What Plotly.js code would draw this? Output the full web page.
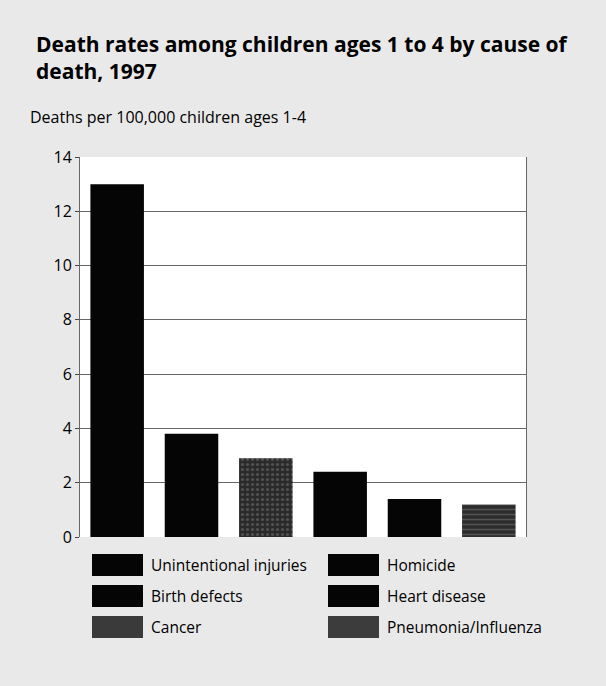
<!DOCTYPE html>
<html><head><meta charset="utf-8">
<script src="https://cdn.plot.ly/plotly-3.0.1.min.js"></script>
<style>html,body{margin:0;padding:0;background:#e9e9e9}</style>
</head><body><div id="chart" style="width:606px;height:686px"></div>
<script>
// ---- data ----
const causes = ["Unintentional injuries","Birth defects","Cancer","Homicide","Heart disease","Pneumonia/Influenza"];
const rates = [13.0, 3.8, 2.9, 2.4, 1.4, 1.2];
const yTickVals = [0,2,4,6,8,10,12,14];
const titleText = "Death rates among children ages 1 to 4 by cause of<br>death, 1997";
const yTitleText = "Deaths per 100,000 children ages 1-4";

// ---- styles ----
const barColors = ["#050505","#050505","#2a2a2a","#050505","#050505","#2c2c2c"];
const patShapes = ["","",".","","","-"];
const swatchColors = ["#050505","#050505","#3a3a3a","#050505","#050505","#3c3c3c"];
const FONT = "Open Sans, Lato, sans-serif";

const W = 606, H = 686, L = 80, R = 80, T = 157, B = 149;
const pw = W - L - R, ph = H - T - B;
const px2x = p => (p - L) / pw;
const py2y = p => (H - B - p) / ph;

const traces = causes.map((c, i) => ({
  type: "bar",
  x: [c],
  y: [rates[i]],
  name: c,
  width: 0.72,
  showlegend: false,
  marker: {
    color: barColors[i],
    line: {width: 0},
    pattern: patShapes[i]
      ? {shape: patShapes[i], fillmode: "overlay", bgcolor: barColors[i], fgcolor: "#7a7a7a", size: 5, solidity: 0.3}
      : {shape: ""}
  },
  hoverinfo: "x+y"
}));

// custom legend: two columns, three rows
const shapes = [];
const annotations = [];
const rowY = [565, 596, 627];
const colX = [92, 328];
causes.forEach((c, i) => {
  const col = Math.floor(i / 3), row = i % 3;
  const x0 = colX[col], y0 = rowY[row];
  shapes.push({type: "rect", xref: "paper", yref: "paper",
    x0: px2x(x0), x1: px2x(x0 + 51), y0: py2y(y0 - 11), y1: py2y(y0 + 11),
    fillcolor: swatchColors[i], line: {width: 0}});
  annotations.push({xref: "paper", yref: "paper", x: px2x(x0 + 57), y: py2y(y0),
    xanchor: "left", yanchor: "middle", text: c, showarrow: false,
    font: {family: FONT, size: 15.5, color: "#000"}});
});
annotations.push({xref: "paper", yref: "paper", x: px2x(28), y: py2y(117),
  xanchor: "left", yanchor: "middle", text: yTitleText, showarrow: false,
  font: {family: FONT, size: 16, color: "#000"}});

const layout = {
  width: W, height: H,
  margin: {l: L, r: R, t: T, b: B, pad: 0},
  paper_bgcolor: "#e9e9e9",
  plot_bgcolor: "#ffffff",
  barmode: "overlay",
  title: {text: titleText, x: 36 / W, xanchor: "left", xref: "container",
    y: 1 - 52 / H, yanchor: "top", yref: "container",
    font: {family: FONT, size: 21, color: "#000", weight: "bold"}},
  xaxis: {type: "category", categoryorder: "array", categoryarray: causes,
    showticklabels: false, ticks: "", showgrid: false, zeroline: false,
    showline: false, fixedrange: true},
  yaxis: {range: [0, 14], tickvals: yTickVals, ticks: "outside", ticklen: 4,
    tickcolor: "#444", showgrid: true, gridcolor: "#666", gridwidth: 1,
    zeroline: false, showline: true, mirror: true, linecolor: "#666", linewidth: 1,
    tickfont: {family: FONT, size: 16, color: "#000"}, fixedrange: true},
  shapes: shapes,
  annotations: annotations,
  showlegend: false
};

Plotly.newPlot("chart", traces, layout, {displayModeBar: false, staticPlot: true});
</script></body></html>
